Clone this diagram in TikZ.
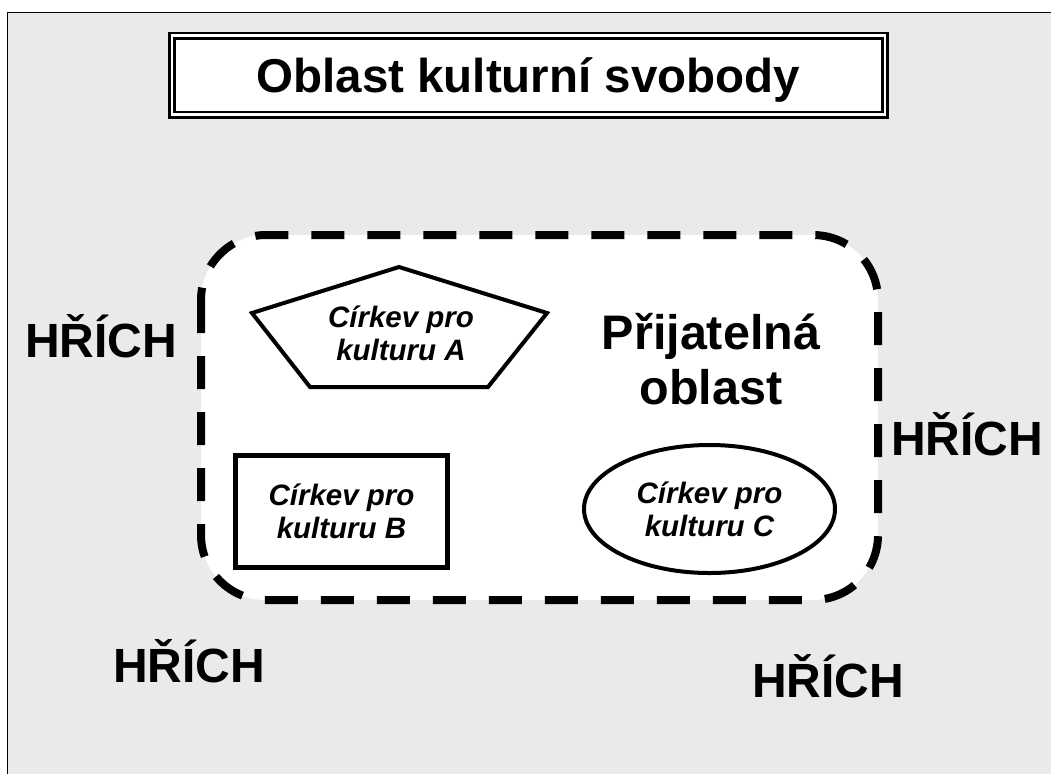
\documentclass[tikz,border=0pt]{standalone}
\usepackage{fontspec}
\setmainfont{Liberation Sans}
\usetikzlibrary{shapes.geometric}
\definecolor{pagegray}{HTML}{EAEAEA}
\tikzset{
	sin/.style={font=\bfseries\fontsize{48}{54}\selectfont, anchor=base},
	church/.style={font=\bfseries\itshape\fontsize{29.5}{33}\selectfont, align=center},
	churchline/.style={line width=4pt, fill=white},
}
\begin{document}
\begin{tikzpicture}[x=1pt, y=-1pt]
	\useasboundingbox (0,0) rectangle (1051,774);
	\fill[pagegray] (7.5,12.5) rectangle (1051,774);
	\draw[line width=1.8pt] (7.5,774) -- (7.5,12.5) -- (1051,12.5);
	\node (title) at (528.3,75) [draw, double, double distance=2.5pt, line width=2.75pt, fill=white,
		minimum width=713pt, minimum height=79pt, text depth=0pt,
		font=\bfseries\fontsize{47.5}{52}\selectfont]	{Oblast kulturní svobody};
	\draw[line width=8pt, fill=white, rounded corners=65pt, dash pattern=on 33pt off 23pt]
		(201,235) rectangle (878,600);
	% cirkev A
	\coordinate (A1) at (399,267);
	\coordinate (A2) at (547,313);
	\coordinate (A3) at (488,387);
	\coordinate (A4) at (310,387);
	\coordinate (A5) at (252,313);
	\draw[churchline] (A1) -- (A2) -- (A3) -- (A4) -- (A5) -- cycle;
	\node (A) at (401,333)	[church]	{Církev pro\\kulturu A};
	% cirkev B, C
	\node (B) at (341.5,511.5)	[church, draw, line width=5pt, fill=white, minimum width=212pt, minimum height=112pt]	{Církev pro\\kulturu B};
	\node (C) at (709.5,509)	[church, churchline, ellipse, draw, inner sep=0pt, minimum width=251pt, minimum height=128pt]	{Církev pro\\kulturu C};
	\node (ok) at (711,359)	[font=\bfseries\fontsize{48.5}{55}\selectfont, align=center]	{Přijatelná\\oblast};
	\node (H1) at (101,357)	[sin]	{HŘÍCH};
	\node (H2) at (967,455)	[sin]	{HŘÍCH};
	\node (H3) at (189,682)	[sin]	{HŘÍCH};
	\node (H4) at (828,697)	[sin]	{HŘÍCH};
\end{tikzpicture}
\end{document}
